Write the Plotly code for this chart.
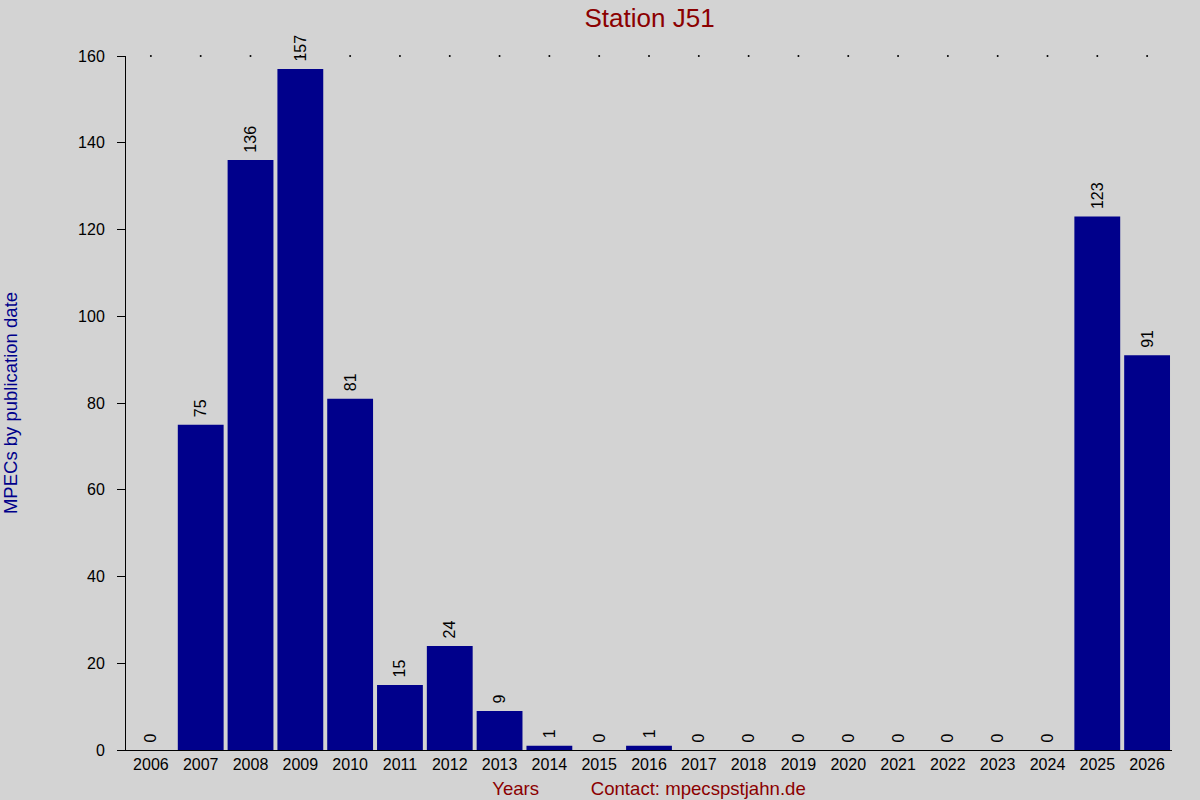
import plotly.graph_objects as go

years = [str(y) for y in range(2006, 2027)]
mpecs = [0, 75, 136, 157, 81, 15, 24, 9, 1, 0, 1, 0, 0, 0, 0, 0, 0, 0, 0, 123, 91]
y_max = 160

fig = go.Figure()
fig.add_trace(
    go.Bar(
        x=years,
        y=mpecs,
        marker_color="#00008B",
        marker_line_width=0,
        # leading nbsp gives a little more room between bar top and label
        text=["\u00a0" + str(v) for v in mpecs],
        textposition="outside",
        textangle=-90,
        constraintext="none",
        textfont=dict(size=16, color="black"),
        cliponaxis=False,
        hoverinfo="x+y",
    )
)
# little dots along the top edge, one per year
fig.add_trace(
    go.Scatter(
        x=years,
        y=[y_max] * len(years),
        mode="markers",
        marker=dict(size=2, color="black"),
        hoverinfo="skip",
        cliponaxis=False,
    )
)

fig.update_layout(
    width=1200,
    height=800,
    showlegend=False,
    paper_bgcolor="#D3D3D3",
    plot_bgcolor="#D3D3D3",
    font=dict(family="Liberation Sans, Arial, sans-serif", size=16, color="black"),
    margin=dict(l=126, r=28, t=56, b=50, autoexpand=False),
    bargap=0.08,
    title=dict(
        text="Station J51",
        x=0.5413,
        xanchor="center",
        y=0.9775,
        yanchor="middle",
        font=dict(size=26, color="#8B0000"),
    ),
)
fig.update_xaxes(
    type="category",
    range=[-0.5, 20.5],
    automargin=False,
    showline=True,
    linecolor="black",
    linewidth=1,
    ticks="",
    showgrid=False,
    tickfont=dict(size=16),
    title=dict(
        text="Years" + "\u00a0" * 10 + "Contact: mpecspstjahn.de",
        font=dict(size=18.6, color="#8B0000"),
        standoff=9,
    ),
)
fig.update_yaxes(
    range=[0, y_max],
    dtick=20,
    automargin=False,
    showline=True,
    linecolor="black",
    linewidth=1,
    ticks="outside",
    ticklen=8,
    tickcolor="black",
    ticklabelstandoff=9,
    showgrid=False,
    zeroline=False,
    tickfont=dict(size=16),
    title=dict(
        text="MPECs by publication date",
        font=dict(size=18.5, color="#00008B"),
        standoff=56,
    ),
)

fig.write_html(
    "out.html",
    config={"displayModeBar": False},
    post_script="document.body.style.margin='0';",
)
